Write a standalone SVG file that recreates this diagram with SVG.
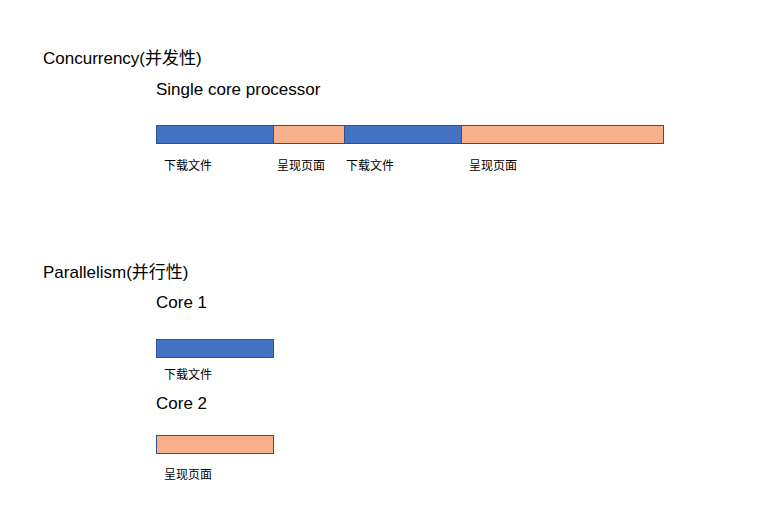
<svg xmlns="http://www.w3.org/2000/svg" width="777" height="515" viewBox="0 0 777 515">
<style>
.h{font-family:"Liberation Sans","Noto Sans CJK SC",sans-serif;font-size:17px;fill:#000}
.s{font-family:"Noto Sans CJK SC",sans-serif;font-size:12px;fill:#000}
.b{fill:#4472C4;stroke:#2F528F;stroke-width:1}
.o{fill:#F8B08A;stroke:#2F528F;stroke-width:1}
</style>
<rect width="777" height="515" fill="#fff"/>
<g id="labels">
<text class="h" x="43" y="64">Concurrency(并发性)</text>
<text class="h" x="156" y="95">Single core processor</text>
<text class="h" x="43" y="278">Parallelism(并行性)</text>
<text class="h" x="156" y="308">Core 1</text>
<text class="h" x="156" y="409">Core 2</text>
</g>
<g id="bar1">
<rect class="b" x="156.5" y="125.5" width="117" height="18"/><text class="s" x="164" y="170">下载文件</text>
</g>
<g id="bar2">
<rect class="o" x="273.5" y="125.5" width="71" height="18"/><text class="s" x="277" y="170">呈现页面</text>
</g>
<g id="bar3">
<rect class="b" x="344.5" y="125.5" width="117" height="18"/><text class="s" x="346" y="170">下载文件</text>
</g>
<g id="bar4">
<rect class="o" x="461.5" y="125.5" width="202" height="18"/><text class="s" x="469" y="170">呈现页面</text>
</g>
<g id="core1">
<rect class="b" x="156.5" y="339.5" width="117" height="18"/><text class="s" x="164" y="379">下载文件</text>
</g>
<g id="core2">
<rect class="o" x="156.5" y="435.5" width="117" height="18"/><text class="s" x="164" y="479">呈现页面</text>
</g>
<g id="connectors"/>
</svg>
